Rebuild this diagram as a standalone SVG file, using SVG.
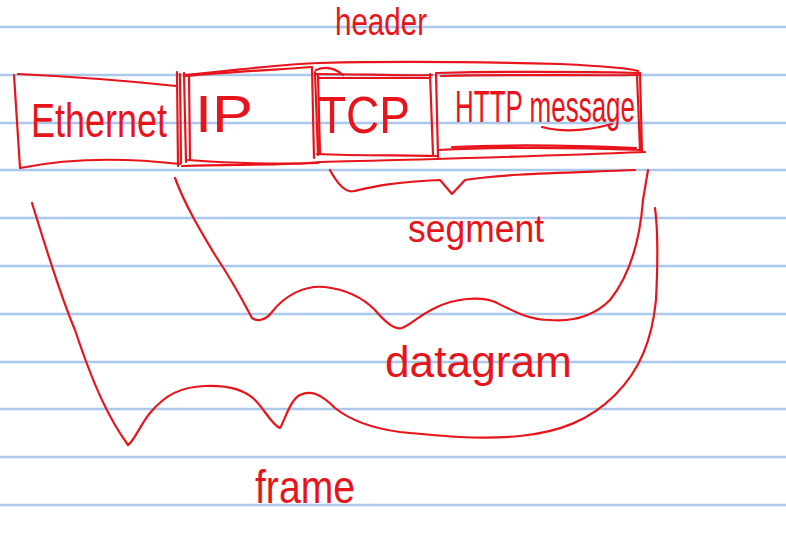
<svg xmlns="http://www.w3.org/2000/svg" width="786" height="550" viewBox="0 0 786 550">
<style>
.rule{stroke:#aac8ea;stroke-width:2.5;fill:none}
.ink{stroke:#e8141c;stroke-width:2.2;fill:none;stroke-linecap:round;stroke-linejoin:round}
.hand{fill:#e8141c;font-family:"Liberation Sans",Arial,sans-serif;font-weight:normal}
</style>
<rect width="786" height="550" fill="#ffffff"/>
<g id="paper-lines">
<line class="rule" x1="0" y1="27" x2="786" y2="27"/>
<line class="rule" x1="0" y1="75" x2="786" y2="75"/>
<line class="rule" x1="0" y1="123" x2="786" y2="123"/>
<line class="rule" x1="0" y1="170" x2="786" y2="170"/>
<line class="rule" x1="0" y1="218" x2="786" y2="218"/>
<line class="rule" x1="0" y1="266" x2="786" y2="266"/>
<line class="rule" x1="0" y1="314" x2="786" y2="314"/>
<line class="rule" x1="0" y1="362" x2="786" y2="362"/>
<line class="rule" x1="0" y1="409" x2="786" y2="409"/>
<line class="rule" x1="0" y1="457" x2="786" y2="457"/>
<line class="rule" x1="0" y1="505" x2="786" y2="505"/>
</g>
<g id="header-label">
<text class="hand" x="335" y="35" font-size="38" textLength="92" lengthAdjust="spacingAndGlyphs">header</text>
</g>
<g id="ethernet">
<path class="ink" d="M14,75 L20,168"/>
<path class="ink" d="M18,74 C60,76 120,80 176,86"/>
<path class="ink" d="M20,168 C60,160 110,156 180,164"/>
<path class="ink" d="M177,72 L178,166 M180,74 L181,163"/>
<text class="hand" transform="translate(31,137) scale(1,1.35)" font-size="36">Ethernet</text>
</g>
<g id="ip">
<path class="ink" d="M184,73 L186,162 M189,75 L190,160"/>
<path class="ink" d="M186,76 C230,72 270,70 312,67"/>
<path class="ink" d="M188,160 C230,163 270,165 318,163"/>
<path class="ink" d="M312,67 L314,158"/>
<text class="hand" x="195" y="132" font-size="52" textLength="58" lengthAdjust="spacingAndGlyphs">IP</text>
</g>
<g id="tcp">
<path class="ink" d="M315,72 L318,155 M318,75 L320,153"/>
<path class="ink" d="M316,74 C360,74 400,76 432,75 M318,78 C360,78 400,78 430,78"/>
<path class="ink" d="M317,154 C360,156 400,155 437,156"/>
<path class="ink" d="M430,74 L433,155 M436,73 L438,157"/>
<path class="ink" d="M316,70 Q330,64 343,75"/>
<text class="hand" x="318" y="133" font-size="52" textLength="92" lengthAdjust="spacingAndGlyphs">TCP</text>
</g>
<g id="http-message">
<path class="ink" d="M437,73 C520,71 590,72 640,73 M441,76 C520,74 590,76 638,75"/>
<path class="ink" d="M640,73 L642,152 M637,75 L640,150"/>
<path class="ink" d="M438,150 C520,146 590,148 642,150 M452,147 C520,144 590,146 636,148"/>
<text class="hand" x="455" y="122" font-size="44" textLength="180" lengthAdjust="spacingAndGlyphs">HTTP message</text>
<path class="ink" d="M542,127 C565,133 590,130 612,124"/>
</g>
<g id="segment-outline">
<path class="ink" d="M184,75 C240,70 280,64 320,63 C400,61 480,62 560,64 C600,66 630,68 638,71"/>
<path class="ink" d="M182,166 C240,164 280,166 320,162 C400,160 520,157 645,152"/>
<path class="ink" d="M330,170 C338,185 346,193 354,191 C372,187 392,182 440,180 L452,194 L465,180 C500,174 560,173 635,170"/>
<text class="hand" x="408" y="242" font-size="38" textLength="136" lengthAdjust="spacingAndGlyphs">segment</text>
</g>
<g id="datagram-outline">
<path class="ink" d="M175,178 C185,205 200,230 215,255 C235,285 245,305 252,318 C258,322 266,320 272,312 C285,295 305,285 325,287 C350,290 365,300 375,310 C385,322 395,330 402,328 C410,325 420,315 435,308 C455,298 480,296 495,302 C515,312 530,320 550,320 C575,322 595,315 610,300 C630,275 640,240 643,200 L648,170"/>
<text class="hand" x="385" y="377" font-size="44" textLength="187" lengthAdjust="spacingAndGlyphs">datagram</text>
</g>
<g id="frame-outline">
<path class="ink" d="M32,203 C45,245 60,295 75,330 C95,390 110,420 128,445 C135,440 140,425 150,413 C165,395 180,387 205,386 C230,385 245,390 255,400 C265,410 272,425 280,428 C285,420 290,400 300,395 C310,390 320,393 335,408 C350,420 370,428 400,432 C440,436 480,440 520,436 C560,432 590,420 615,395 C640,370 652,340 656,300 C658,260 658,230 655,208"/>
<text class="hand" x="255" y="503" font-size="46" textLength="100" lengthAdjust="spacingAndGlyphs">frame</text>
</g>
</svg>
